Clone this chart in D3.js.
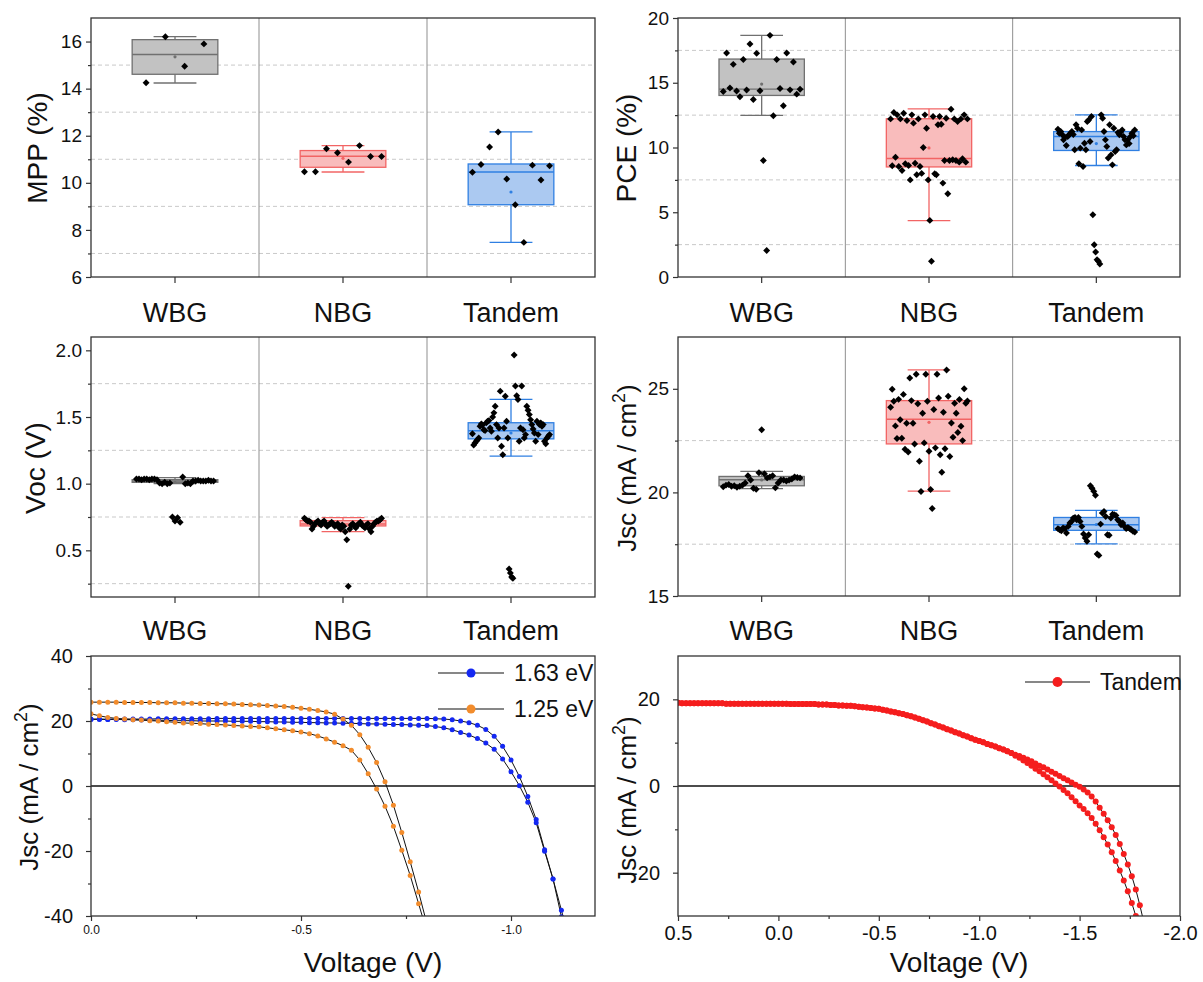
<!DOCTYPE html>
<html>
<head>
<meta charset="utf-8">
<script src="https://cdn.jsdelivr.net/npm/d3@7"></script>
<style>
  html, body { margin: 0; padding: 0; background: #fff; }
  svg { display: block; font-family: "Liberation Sans", Arial, sans-serif; }
</style>
</head>
<body>
<svg id="chart" width="1203" height="982"></svg>
<script>
// ---------- device groups ----------
const categories = ["WBG", "NBG", "Tandem"];

// ---------- MPP (%) ----------
const mppWBG = [14.25, 16.2, 14.95, 15.9];
const mppNBG = [10.47, 10.47, 11.45, 11.28, 10.88, 11.58, 11.12, 11.12];
const mppTandem = [10.45, 10.78, 11.52, 12.16, 10.16, 9.07, 7.47, 10.75, 10.12, 10.72];
// box statistics per group: [whisker low, Q1, median, Q3, whisker high, mean]
const mppBox = [[14.24, 14.61, 15.45, 16.08, 16.21, 15.35],
                [10.46, 10.66, 11.13, 11.37, 11.58, 11.04],
                [7.47, 9.07, 10.46, 10.80, 12.16, 9.61]];
const mppTicks = [6, 8, 10, 12, 14, 16];
const mppMinor = [7, 9, 11, 13, 15];

// ---------- PCE (%) ----------
const pceWBG = [14.33, 17.3, 14.59, 16.42, 14.36, 13.92, 16.8, 14.44, 17.99, 13.71, 17.27, 14.38,
                9.0, 2.04, 18.66, 12.45, 16.8, 14.55, 13.22, 17.3, 14.45, 16.6, 14.12, 14.5];
const pceNBG = [12.21, 8.59, 12.7, 9.25, 12.52, 8.53, 12.21, 8.23, 12.65, 8.74, 12.08, 8.61, 7.5,
                12.52, 11.88, 8.79, 7.89, 12.21, 8.53, 8.0, 10.0, 12.52, 11.49, 7.5, 4.37, 1.21,
                12.39, 7.97, 7.89, 11.75, 12.39, 11.8, 7.25, 9.0, 12.26, 6.43, 9.0, 12.96, 9.05,
                12.21, 9.0, 12.0, 8.87, 12.21, 9.13, 12.52, 8.87, 12.21];
const pceTandem = [11.41, 11.1, 11.23, 11.0, 10.59, 10.8, 10.15, 10.85, 10.98, 11.1, 11.23, 11.0,
                   9.82, 11.75, 11.49, 8.74, 9.95, 11.36, 8.53, 10.33, 9.82, 12.0, 12.13, 10.46,
                   12.39, 4.81, 2.49, 1.93, 1.34, 1.22, 1.0, 12.52, 12.26, 11.23, 10.59, 10.08,
                   9.18, 11.75, 9.43, 8.66, 11.49, 9.69, 9.82, 11.16, 10.98, 11.2, 11.36, 10.85,
                   10.59, 10.2, 10.59, 10.3, 10.85, 11.1, 10.9, 11.36];
const pceBox = [[12.48, 14.02, 14.51, 16.83, 18.66, 14.9],
                [4.36, 8.5, 9.15, 12.22, 12.99, 9.97],
                [8.61, 9.77, 10.85, 11.23, 12.52, 10.3]];
const pceTicks = [0, 5, 10, 15, 20];
const pceMinor = [2.5, 7.5, 12.5, 17.5];

// ---------- Voc (V) ----------
const vocWBG = [1.035, 1.035, 1.03, 1.035, 1.035, 1.03, 1.035, 1.035, 1.03, 1.005, 1.0, 1.01, 1.0,
                1.005, 0.75, 0.72, 0.745, 0.71, 1.05, 1.0, 1.005, 1.0, 1.02, 1.02, 1.025, 1.02,
                1.02, 1.02, 1.025, 1.02, 1.02];
const vocNBG = [0.74, 0.73, 0.72, 0.72, 0.71, 0.66, 0.68, 0.70, 0.71, 0.72, 0.70, 0.69, 0.71, 0.72,
                0.70, 0.68, 0.69, 0.70, 0.71, 0.70, 0.68, 0.69, 0.70, 0.67, 0.66, 0.69, 0.68, 0.64,
                0.58, 0.23, 0.66, 0.69, 0.70, 0.68, 0.67, 0.69, 0.70, 0.71, 0.69, 0.68, 0.67, 0.69,
                0.70, 0.66, 0.64, 0.68, 0.70, 0.71, 0.72, 0.72, 0.73, 0.74];
const vocTandem = [1.375, 1.29, 1.305, 1.318, 1.33, 1.343, 1.43, 1.448, 1.44, 1.405, 1.398, 1.456,
                   1.468, 1.473, 1.418, 1.393, 1.5, 1.531, 1.581, 1.443, 1.343, 1.418, 1.694, 1.28,
                   1.217, 1.418, 1.656, 1.468, 1.343, 0.36, 0.33, 0.30, 0.29, 1.965, 1.732, 1.66,
                   1.631, 1.318, 1.418, 1.732, 1.405, 1.343, 1.368, 1.581, 1.55, 1.518, 1.48,
                   1.443, 1.41, 1.38, 1.318, 1.468, 1.368, 1.443, 1.456, 1.43, 1.443, 1.318, 1.30,
                   1.343, 1.355, 1.368];
const vocBox = [[1.0, 1.01, 1.02, 1.03, 1.045, 1.01],
                [0.641, 0.683, 0.698, 0.723, 0.746, 0.69],
                [1.206, 1.336, 1.397, 1.457, 1.632, 1.38]];
const vocTicks = [0.5, 1.0, 1.5, 2.0];
const vocMinor = [0.25, 0.75, 1.25, 1.75];

// ---------- Jsc (mA/cm2) ----------
const jscWBG = [20.27, 20.35, 20.38, 20.3, 20.32, 20.25, 20.3, 20.35, 20.45, 20.8, 20.6, 20.2, 20.15,
                20.95, 23.02, 20.9, 20.7, 20.75, 20.8, 20.22, 20.45, 20.6, 20.6, 20.55, 20.6, 20.65,
                20.75, 20.72, 20.7];
const jscNBG = [24.11, 24.98, 24.4, 23.21, 22.6, 24.49, 23.51, 22.61, 24.73, 22.08, 23.34, 21.95,
                25.52, 24.43, 23.34, 22.34, 25.7, 24.28, 21.5, 20.04, 23.82, 22.39, 25.7, 24.4,
                21.99, 20.14, 19.22, 24.0, 22.15, 25.7, 24.56, 21.82, 20.97, 23.87, 22.11, 25.91,
                24.64, 21.73, 23.35, 22.66, 24.3, 23.82, 22.89, 24.48, 23.19, 22.5, 25.0, 24.3, 24.41];
const jscTandem = [18.25, 18.2, 18.15, 18.28, 18.25, 18.04, 18.36, 18.52, 18.6, 18.76, 18.79, 18.68,
                   18.79, 18.6, 18.36, 17.99, 17.8, 17.64, 17.96, 20.32, 20.2, 20.05, 19.86, 17.03,
                   16.96, 18.47, 19.0, 19.08, 18.84, 17.96, 17.93, 18.76, 18.95, 18.92, 18.89,
                   18.68, 18.6, 18.44, 18.52, 18.36, 18.25, 18.31, 18.25, 18.2, 18.12, 18.09];
const jscBox = [[20.18, 20.32, 20.61, 20.77, 21.01, 20.6],
                [20.06, 22.34, 23.53, 24.43, 25.91, 23.38],
                [17.52, 18.17, 18.44, 18.79, 19.13, 18.45]];
const jscTicks = [15, 20, 25];
const jscMinor = [17.5, 22.5];

// ---------- J-V sweeps of the single-junction cells ----------
const jvVoltage = [0, -0.02, -0.04, -0.06, -0.08, -0.1, -0.12, -0.14, -0.16, -0.18, -0.2, -0.22,
  -0.24, -0.26, -0.28, -0.3, -0.32, -0.34, -0.36, -0.38, -0.4, -0.42, -0.44, -0.46, -0.48, -0.5,
  -0.52, -0.54, -0.56, -0.58, -0.6, -0.62, -0.64, -0.66, -0.68, -0.7, -0.72, -0.74, -0.76, -0.78,
  -0.8, -0.82, -0.84, -0.86, -0.88, -0.9, -0.92, -0.94, -0.96, -0.98, -1, -1.02, -1.04, -1.06,
  -1.08, -1.1, -1.12, -1.14];
const wbgSweepA = [20.5, 20.5, 20.5, 20.6, 20.6, 20.6, 20.6, 20.6, 20.7, 20.7, 20.7, 20.7, 20.7,
  20.7, 20.7, 20.8, 20.8, 20.8, 20.8, 20.8, 20.8, 20.8, 20.8, 20.8, 20.8, 20.8, 20.8, 20.8, 20.8,
  20.8, 20.8, 20.8, 20.8, 20.8, 20.8, 20.8, 20.8, 20.8, 20.8, 20.8, 20.8, 20.7, 20.6, 20.4, 20.0,
  19.5, 18.7, 17.4, 15.3, 12.2, 8.0, 2.9, -3.2, -10.3, -19.6, -28.6, -38.2, -48.0];
const wbgSweepB = [20.6, 20.6, 20.5, 20.5, 20.4, 20.4, 20.3, 20.3, 20.2, 20.2, 20.1, 20.1, 20.1,
  20.0, 20.0, 20.0, 20.0, 19.9, 19.9, 19.9, 19.8, 19.8, 19.7, 19.7, 19.6, 19.6, 19.5, 19.5, 19.4,
  19.4, 19.3, 19.3, 19.2, 19.1, 19.1, 19.0, 18.9, 18.9, 18.8, 18.7, 18.6, 18.3, 17.9, 17.3, 16.5,
  15.7, 14.6, 13.2, 11.3, 8.3, 4.4, 0.1, -5.0, -11.3, -20.1, -28.6, -40.2, -50.0];
const nbgSweepA = [25.8, 25.8, 25.8, 25.8, 25.7, 25.7, 25.7, 25.7, 25.6, 25.6, 25.6, 25.5, 25.5,
  25.4, 25.4, 25.3, 25.3, 25.2, 25.1, 25.0, 24.9, 24.8, 24.6, 24.5, 24.2, 23.9, 23.6, 23.2, 22.8,
  22.1, 20.6, 18.7, 15.8, 11.9, 7.2, 1.3, -5.9, -14.3, -23.3, -32.6, -42.5];
const nbgSweepB = [22.2, 21.6, 21.1, 20.8, 20.6, 20.4, 20.3, 20.1, 20.0, 19.8, 19.6, 19.4, 19.3,
  19.2, 19.0, 18.9, 18.8, 18.6, 18.5, 18.3, 18.2, 17.9, 17.6, 17.3, 17.0, 16.6, 16.1, 15.4, 14.5,
  13.5, 12.4, 11.0, 8.0, 3.8, -0.9, -6.2, -12.4, -19.8, -27.5, -36.2, -45.0];
const jvLegend = ["1.63 eV", "1.25 eV"];

// ---------- J-V sweeps of the tandem ----------
const tandemVoltage = [0.5, 0.48, 0.46, 0.44, 0.42, 0.4, 0.38, 0.36, 0.34, 0.32, 0.3, 0.28, 0.26,
  0.24, 0.22, 0.2, 0.18, 0.16, 0.14, 0.12, 0.1, 0.08, 0.06, 0.04, 0.02, 0, -0.02, -0.04, -0.06,
  -0.08, -0.1, -0.12, -0.14, -0.16, -0.18, -0.2, -0.22, -0.24, -0.26, -0.28, -0.3, -0.32, -0.34,
  -0.36, -0.38, -0.4, -0.42, -0.44, -0.46, -0.48, -0.5, -0.52, -0.54, -0.56, -0.58, -0.6, -0.62,
  -0.64, -0.66, -0.68, -0.7, -0.72, -0.74, -0.76, -0.78, -0.8, -0.82, -0.84, -0.86, -0.88, -0.9,
  -0.92, -0.94, -0.96, -0.98, -1, -1.02, -1.04, -1.06, -1.08, -1.1, -1.12, -1.14, -1.16, -1.18,
  -1.2, -1.22, -1.24, -1.26, -1.28, -1.3, -1.32, -1.34, -1.36, -1.38, -1.4, -1.42, -1.44, -1.46,
  -1.48, -1.5, -1.52, -1.54, -1.56, -1.58, -1.6, -1.62, -1.64, -1.66, -1.68, -1.7, -1.72, -1.74,
  -1.76, -1.78, -1.8, -1.82];
// both sweeps overlap from 0.5 V down to -1.16 V
const tandemShared = [19.2, 19.1, 19.1, 19.1, 19.1, 19.1, 19.1, 19.1, 19.1, 19.1, 19.1, 19.1,
  19.0, 19.0, 19.0, 19.0, 19.0, 19.0, 19.0, 19.0, 19.0, 19.0, 19.0, 19.0, 19.0, 19.0, 19.0, 19.0,
  18.9, 18.9, 18.9, 18.9, 18.9, 18.9, 18.9, 18.8, 18.8, 18.8, 18.7, 18.7, 18.6, 18.6, 18.5, 18.5,
  18.4, 18.3, 18.2, 18.1, 18.0, 17.9, 17.8, 17.6, 17.4, 17.2, 17.0, 16.8, 16.6, 16.3, 16.1, 15.8,
  15.5, 15.2, 14.9, 14.5, 14.2, 13.8, 13.5, 13.1, 12.8, 12.4, 12.1, 11.7, 11.4, 11.0, 10.7, 10.4,
  10.1, 9.7, 9.4, 9.1, 8.7, 8.4, 8.0, 7.6];
const tandemTailA = [7.2, 6.9, 6.5, 6.1, 5.7, 5.2, 4.7, 4.3, 3.8, 3.3, 2.8, 2.3, 1.8, 1.3, 0.8, 0.3,
  -0.2, -0.8, -1.5, -2.4, -3.6, -5.0, -6.4, -7.9, -9.5, -11.3, -13.4, -15.7, -18.1, -20.8, -23.9,
  -27.5, -31.5];
const tandemTailB = [7.0, 6.5, 5.9, 5.3, 4.7, 4.0, 3.4, 2.7, 2.0, 1.3, 0.6, -0.1, -0.9, -1.7, -2.6,
  -3.5, -4.5, -5.3, -6.3, -7.4, -8.7, -10.2, -11.8, -13.5, -15.3, -17.3, -19.5, -21.8, -24.3,
  -27.0, -30.0, -33.2, -36.5];
const tandemLegend = ["Tandem"];

// ---------- drawing ----------
const svg = d3.select("#chart");
const hyphen = f => v => f(v).replace("\u2212", "-");
const groupStyle = [
  { fill: "#c2c2c2", stroke: "#707070" },
  { fill: "#f9bcbc", stroke: "#f26464" },
  { fill: "#abc9f1", stroke: "#2f7fe2" }
];
const axisColor = "#333";
const diamond = d3.symbol().type(d3.symbolSquare).size(24)();

function yLabel(g, x, y, size, parts) {
  const t = g.append("text")
    .attr("transform", `translate(${x},${y}) rotate(-90)`)
    .attr("text-anchor", "middle")
    .attr("font-size", size)
    .attr("fill", "#111");
  parts.forEach(p => {
    const s = t.append("tspan").text(p.text);
    if (p.sup) s.attr("font-size", size * 0.68).attr("dy", -size * 0.42);
    if (p.after) s.attr("dy", size * 0.42);
  });
}

function styleAxis(a, fontSize) {
  a.select(".domain").remove();
  a.attr("font-family", null);
  a.selectAll("line").attr("stroke", axisColor).attr("stroke-width", 1.2);
  a.selectAll("text").attr("font-size", fontSize).attr("fill", "#111");
}

function boxPanel(p) {
  const g = svg.append("g");
  const y = d3.scaleLinear().domain(p.domain).range([p.bottom, p.top]);
  const x = d3.scaleBand().domain(categories).range([p.left, p.right]);
  const bw = x.bandwidth() * 0.51;

  g.selectAll(null).data(p.minor).join("line")
    .attr("x1", p.left).attr("x2", p.right)
    .attr("y1", d => y(d)).attr("y2", d => y(d))
    .attr("stroke", "#c9c9c9").attr("stroke-width", 1).attr("stroke-dasharray", "4,3");

  g.selectAll(null).data(categories.slice(1)).join("line")
    .attr("x1", d => x(d)).attr("x2", d => x(d))
    .attr("y1", p.top).attr("y2", p.bottom)
    .attr("stroke", "#8f8f8f").attr("stroke-width", 1);

  categories.forEach((c, i) => {
    const [lo, q1, med, q3, hi, mean] = p.box[i];
    const st = groupStyle[i];
    const cx = x(c) + x.bandwidth() / 2;
    const bg = g.append("g");
    bg.append("line").attr("x1", cx).attr("x2", cx).attr("y1", y(hi)).attr("y2", y(lo))
      .attr("stroke", st.stroke).attr("stroke-width", 1.3);
    [lo, hi].forEach(v => bg.append("line")
      .attr("x1", cx - bw * 0.25).attr("x2", cx + bw * 0.25)
      .attr("y1", y(v)).attr("y2", y(v))
      .attr("stroke", st.stroke).attr("stroke-width", 1.3));
    bg.append("rect").attr("x", cx - bw / 2).attr("width", bw)
      .attr("y", y(q3)).attr("height", Math.max(1, y(q1) - y(q3)))
      .attr("fill", st.fill).attr("stroke", st.stroke).attr("stroke-width", 1.3);
    bg.append("line").attr("x1", cx - bw / 2).attr("x2", cx + bw / 2)
      .attr("y1", y(med)).attr("y2", y(med))
      .attr("stroke", st.stroke).attr("stroke-width", 1.4);
    bg.append("circle").attr("cx", cx).attr("cy", y(mean)).attr("r", 1.6).attr("fill", st.stroke);

    const vals = p.points[i];
    const n = vals.length;
    const spread = bw * 0.9 * Math.min(1, (n - 1) / 4);
    bg.selectAll(null).data(vals).join("path")
      .attr("d", diamond)
      .attr("transform", (d, k) => {
        const px = n > 1 ? cx - spread / 2 + spread * k / (n - 1) : cx;
        return `translate(${px},${y(d)}) rotate(45)`;
      })
      .attr("fill", "#000");
  });

  g.append("rect").attr("x", p.left).attr("y", p.top)
    .attr("width", p.right - p.left).attr("height", p.bottom - p.top)
    .attr("fill", "none").attr("stroke", axisColor).attr("stroke-width", 1.3);

  g.append("g").attr("transform", `translate(${p.left},0)`)
    .call(d3.axisLeft(y).tickValues(p.ticks).tickSize(5).tickPadding(4).tickFormat(p.fmt))
    .call(a => styleAxis(a, 19));
  g.append("g").attr("transform", `translate(${p.left},0)`)
    .call(d3.axisLeft(y).tickValues(p.minor).tickSize(3).tickFormat(""))
    .call(a => styleAxis(a, 19));
  g.append("g").attr("transform", `translate(0,${p.bottom})`)
    .call(d3.axisBottom(x).tickSize(6).tickFormat(""))
    .call(a => styleAxis(a, 19));

  g.selectAll(null).data(categories).join("text")
    .attr("x", d => x(d) + x.bandwidth() / 2).attr("y", p.catY)
    .attr("text-anchor", "middle").attr("font-size", 27).attr("fill", "#111")
    .text(d => d);

  yLabel(g, p.labelX, p.labelY, p.labelSize, p.label);
}

function jvPanel(p) {
  const g = svg.append("g");
  const x = d3.scaleLinear().domain(p.xDomain).range([p.left, p.right]);
  const y = d3.scaleLinear().domain(p.yDomain).range([p.bottom, p.top]);
  const clipId = "clip-" + p.id;
  g.append("clipPath").attr("id", clipId).append("rect")
    .attr("x", p.left).attr("y", p.top)
    .attr("width", p.right - p.left).attr("height", p.bottom - p.top);

  g.append("line").attr("x1", p.left).attr("x2", p.right)
    .attr("y1", y(0)).attr("y2", y(0))
    .attr("stroke", "#111").attr("stroke-width", 1.5);

  const plot = g.append("g").attr("clip-path", `url(#${clipId})`);
  const line = d3.line().x(d => x(d[0])).y(d => y(d[1]));
  p.series.forEach(s => {
    const pts = s.curr.map((j, i) => [s.volt[i], j]);
    plot.append("path").datum(pts).attr("d", line)
      .attr("fill", "none").attr("stroke", "#111").attr("stroke-width", 1);
  });
  p.series.forEach(s => {
    const pts = s.curr.map((j, i) => [s.volt[i], j]);
    plot.selectAll(null).data(pts).join("circle")
      .attr("cx", d => x(d[0])).attr("cy", d => y(d[1]))
      .attr("r", p.markerR).attr("fill", s.color);
  });

  g.append("rect").attr("x", p.left).attr("y", p.top)
    .attr("width", p.right - p.left).attr("height", p.bottom - p.top)
    .attr("fill", "none").attr("stroke", axisColor).attr("stroke-width", 1.3);

  g.append("g").attr("transform", `translate(${p.left},0)`)
    .call(d3.axisLeft(y).tickValues(p.yTicks).tickSize(5).tickPadding(13)
      .tickFormat(hyphen(d3.format("d"))))
    .call(a => styleAxis(a, 20));
  g.append("g").attr("transform", `translate(${p.left},0)`)
    .call(d3.axisLeft(y).tickValues(p.yMinor).tickSize(3).tickFormat(""))
    .call(a => styleAxis(a, 20));
  g.append("g").attr("transform", `translate(0,${p.bottom})`)
    .call(d3.axisBottom(x).tickValues(p.xTicks).tickSize(5).tickPadding(p.xPad)
      .tickFormat(hyphen(d3.format(".1f"))))
    .call(a => styleAxis(a, p.xTickSize));
  g.append("g").attr("transform", `translate(0,${p.bottom})`)
    .call(d3.axisBottom(x).tickValues(p.xMinor).tickSize(3).tickFormat(""))
    .call(a => styleAxis(a, p.xTickSize));

  g.append("text").attr("x", p.xLabelX).attr("y", 972)
    .attr("text-anchor", "middle").attr("font-size", 28).attr("fill", "#111")
    .text("Voltage (V)");

  yLabel(g, p.labelX, p.labelY, 26, jscLabel);

  p.series.filter(s => s.name).forEach((s, k) => {
    const ly = p.legend.y + k * p.legend.dy;
    g.append("line").attr("x1", p.legend.x1).attr("x2", p.legend.x2)
      .attr("y1", ly).attr("y2", ly).attr("stroke", "#111").attr("stroke-width", 1.2);
    g.append("circle").attr("cx", (p.legend.x1 + p.legend.x2) / 2).attr("cy", ly)
      .attr("r", p.legend.r).attr("fill", s.color);
    g.append("text").attr("x", p.legend.tx).attr("y", ly).attr("dy", "0.35em")
      .attr("font-size", p.legend.size).attr("fill", "#111").text(s.name);
  });
}

const jscLabel = [{ text: "Jsc (mA / cm" }, { text: "2", sup: true }, { text: ")", after: true }];
const fmtInt = hyphen(d3.format("d"));
const fmtOne = hyphen(d3.format(".1f"));

boxPanel({ left: 91, right: 595, top: 18, bottom: 277, domain: [6, 17],
  ticks: mppTicks, minor: mppMinor, fmt: fmtInt, box: mppBox,
  points: [mppWBG, mppNBG, mppTandem], catY: 322,
  labelX: 47, labelY: 148, labelSize: 28, label: [{ text: "MPP (%)" }] });

boxPanel({ left: 678, right: 1180, top: 18, bottom: 277, domain: [0, 20],
  ticks: pceTicks, minor: pceMinor, fmt: fmtInt, box: pceBox,
  points: [pceWBG, pceNBG, pceTandem], catY: 322,
  labelX: 636, labelY: 148, labelSize: 28, label: [{ text: "PCE (%)" }] });

boxPanel({ left: 91, right: 595, top: 337, bottom: 597, domain: [0.15, 2.1],
  ticks: vocTicks, minor: vocMinor, fmt: fmtOne, box: vocBox,
  points: [vocWBG, vocNBG, vocTandem], catY: 640,
  labelX: 45, labelY: 468, labelSize: 28, label: [{ text: "Voc (V)" }] });

boxPanel({ left: 678, right: 1180, top: 337, bottom: 596, domain: [15, 27.5],
  ticks: jscTicks, minor: jscMinor, fmt: fmtInt, box: jscBox,
  points: [jscWBG, jscNBG, jscTandem], catY: 640,
  labelX: 636, labelY: 468, labelSize: 26, label: jscLabel });

jvPanel({ id: "single", left: 91, right: 595, top: 656, bottom: 916,
  xDomain: [0, -1.2], yDomain: [-40, 40],
  xTicks: [0, -0.5, -1.0], xMinor: [-0.25, -0.75], xTickSize: 12, xPad: 4,
  yTicks: [-40, -20, 0, 20, 40], yMinor: [-30, -10, 10, 30],
  markerR: 2.5, xLabelX: 373, labelX: 38, labelY: 787,
  series: [
    { volt: jvVoltage, curr: wbgSweepA, color: "#1428f2", name: jvLegend[0] },
    { volt: jvVoltage, curr: wbgSweepB, color: "#1428f2" },
    { volt: jvVoltage, curr: nbgSweepA, color: "#f28c2c", name: jvLegend[1] },
    { volt: jvVoltage, curr: nbgSweepB, color: "#f28c2c" }
  ],
  legend: { x1: 438, x2: 504, tx: 514, y: 673, dy: 36, r: 4.5, size: 23 } });

// stitch the shared part of the tandem sweeps with their individual tails
const tandemSweepA = tandemShared.concat(tandemTailA);
const tandemSweepB = tandemShared.concat(tandemTailB);

jvPanel({ id: "tandem", left: 678, right: 1180, top: 656, bottom: 916,
  xDomain: [0.5, -2.0], yDomain: [-30, 30],
  xTicks: [0.5, 0, -0.5, -1.0, -1.5, -2.0], xMinor: [0.25, -0.25, -0.75, -1.25, -1.75],
  xTickSize: 20, xPad: 5,
  yTicks: [-20, 0, 20], yMinor: [-10, 10],
  markerR: 3, xLabelX: 959, labelX: 636, labelY: 800,
  series: [
    { volt: tandemVoltage, curr: tandemSweepA, color: "#f51d1d", name: tandemLegend[0] },
    { volt: tandemVoltage, curr: tandemSweepB, color: "#f51d1d" }
  ],
  legend: { x1: 1025, x2: 1090, tx: 1100, y: 682, dy: 36, r: 5, size: 23 } });
</script>
</body>
</html>
